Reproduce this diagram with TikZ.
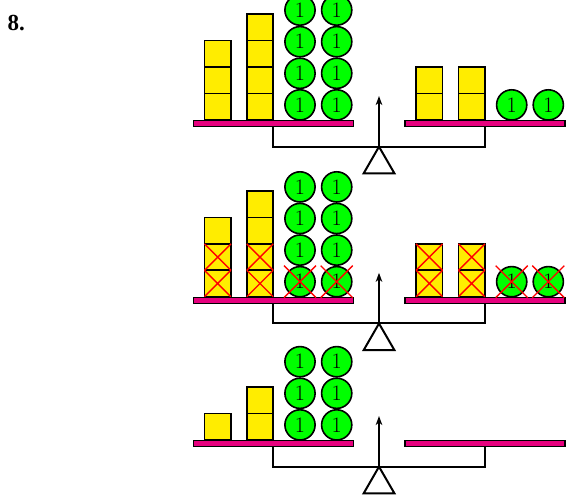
\documentclass[tikz,border=0pt]{standalone}
\usepackage{fontspec}
\newfontfamily\labelfont{Liberation Serif}
\usepackage{tikz}
\usetikzlibrary{arrows.meta,positioning}
\definecolor{CubeYellow}{HTML}{FFED00}
\definecolor{UnitGreen}{HTML}{00FF00}
\definecolor{PanMagenta}{HTML}{E6007E}

\tikzset{
    cube/.style={draw, line width=1.6pt, fill=CubeYellow, minimum size=26.4pt, inner sep=0pt, anchor=south},
    unit/.style={circle, draw, line width=1.6pt, fill=UnitGreen, minimum size=30.2pt, inner sep=0pt, font=\fontsize{22}{22}\selectfont},
    pan/.style={draw, line width=1.4pt, fill=PanMagenta},
    beam/.style={line width=2pt},
    cross/.style={red, line width=1.4pt}
}

\newcommand{\balance}[2]{%
    \draw[pan] (193.3,#2-6) rectangle (353.3,#2);
    \draw[pan] (405,#2-6) rectangle (565,#2);
    \coordinate (#1piv) at (379,#2-26);
    \coordinate (#1tip) at (379,#2+24.7);
    \draw[beam] (273.3,#2-6) |- (#1piv) -| (485,#2-6);
    \draw[line width=1.6pt, -{Stealth[length=9pt,width=6.5pt,inset=2.5pt]}] (#1piv) -- (#1tip);
    \draw[beam, fill=white] (#1piv) -- ++(-15.3,-26.6) -- ++(30.7,0) -- cycle;
}
\newcommand{\cubestack}[4]{%
    \foreach \k in {1,...,#4}
        \node[cube] (#1\k) at (#2,#3+26.4*\k-26.4) {};
}
\newcommand{\unitstack}[4]{%
    \foreach \k in {1,...,#4}
        \node[unit] (#1\k) at (#2,#3+15.8+31.6*\k-31.6) {1};
}
\newcommand{\strike}[2]{%
    \draw[cross] ([shift={(-#2,-#2)}]#1.center) -- ([shift={(#2,#2)}]#1.center)
                 ([shift={(-#2,#2)}]#1.center) -- ([shift={(#2,-#2)}]#1.center);
}

\begin{document}
\begin{tikzpicture}[x=1pt, y=1pt]
    \useasboundingbox (0,0) rectangle (566,498);
    \node[font=\labelfont\bfseries\fontsize{23}{27}\selectfont, anchor=base west, inner sep=0pt] (num) at (7.5,467) {8.};

    % first balance
    \balance{s1}{377.3}
    \cubestack{s1a}{217.7}{377.3}{3}
    \cubestack{s1b}{260}{377.3}{4}
    \unitstack{s1c}{300}{377.3}{4}
    \unitstack{s1d}{336.7}{377.3}{4}
    \cubestack{s1e}{429.3}{377.3}{2}
    \cubestack{s1f}{471.7}{377.3}{2}
    \unitstack{s1g}{511.7}{377.3}{1}
    \unitstack{s1h}{548.3}{377.3}{1}

    % second balance
    \balance{s2}{200.5}
    \cubestack{s2a}{217.7}{200.5}{3}
    \cubestack{s2b}{260}{200.5}{4}
    \unitstack{s2c}{300}{200.5}{4}
    \unitstack{s2d}{336.7}{200.5}{4}
    \cubestack{s2e}{429.3}{200.5}{2}
    \cubestack{s2f}{471.7}{200.5}{2}
    \unitstack{s2g}{511.7}{200.5}{1}
    \unitstack{s2h}{548.3}{200.5}{1}
    \foreach \n in {s2a1,s2a2,s2b1,s2b2,s2e1,s2e2,s2f1,s2f2}
        {\strike{\n}{13.2}}
    \foreach \n in {s2c1,s2d1,s2g1,s2h1}
        {\strike{\n}{16}}

    % third balance
    \balance{s3}{57.3}
    \cubestack{s3a}{217.7}{57.3}{1}
    \cubestack{s3b}{260}{57.3}{2}
    \unitstack{s3c}{300}{57.3}{3}
    \unitstack{s3d}{336.7}{57.3}{3}
\end{tikzpicture}
\end{document}
